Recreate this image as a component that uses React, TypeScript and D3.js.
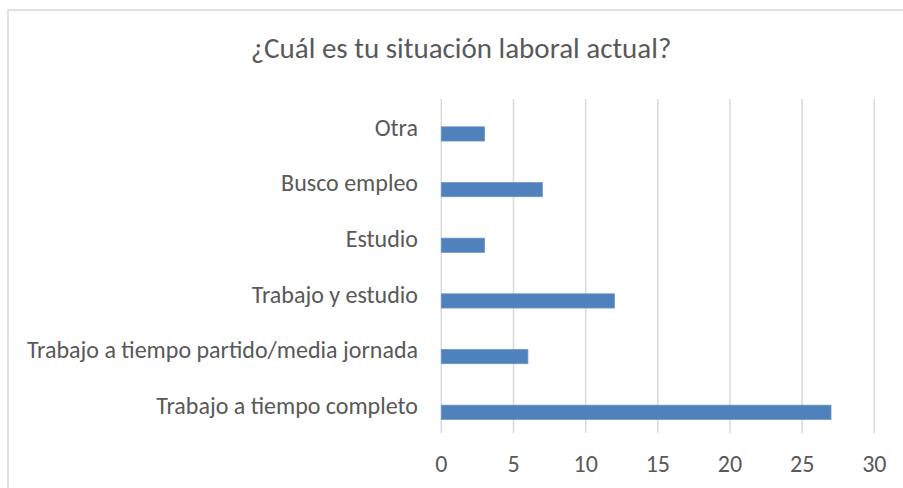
import React from "react";
import * as d3 from "d3";

const title = "¿Cuál es tu situación laboral actual?";
const categories = [
  "Otra",
  "Busco empleo",
  "Estudio",
  "Trabajo y estudio",
  "Trabajo a tiempo partido/media jornada",
  "Trabajo a tiempo completo",
];
const values = [3, 7, 3, 12, 6, 27];
const seriesSlots = ["vacía", "Serie1"];
const xTicks = [0, 5, 10, 15, 20, 25, 30];

const W = 903;
const H = 488;
const FONT = "Carlito, Calibri, 'Open Sans', sans-serif";
const TEXT = "#595959";

export default function App() {
  const x = d3.scaleLinear().domain([0, 30]).range([441.3, 874.3]);
  const y = d3
    .scaleBand<string>()
    .domain(categories)
    .range([99, 433])
    .paddingInner(0.49)
    .paddingOuter(0.245);
  const sub = d3.scaleBand<string>().domain(seriesSlots).range([0, y.bandwidth()]);
  return (
    <svg width={W} height={H} style={{ position: "absolute", left: 0, top: 0 }}>
      <rect x={0} y={0} width={W} height={H} fill="#fff" />
      <rect x={8} y={10} width={W + 20} height={H + 20} fill="none" stroke="#D9D9D9" strokeWidth={1.5} />
      <text x={461} y={57.5} textAnchor="middle" fontFamily={FONT} fontSize={29} fill={TEXT}>
        {title}
      </text>
      {xTicks.map((t) => (
        <line key={"g" + t} x1={x(t)} x2={x(t)} y1={99} y2={433} stroke="#D9D9D9" strokeWidth={1.5} />
      ))}
      {categories.map((c, i) => (
        <rect
          key={c}
          x={x(0)}
          y={(y(c) as number) + (sub("Serie1") as number)}
          width={x(values[i]) - x(0)}
          height={sub.bandwidth()}
          fill="#4F81BD"
          stroke="#6A95C9"
          strokeWidth={0.8}
        />
      ))}
      {categories.map((c) => (
        <text
          key={"l" + c}
          x={418}
          y={(y(c) as number) + y.bandwidth() / 2 + 8.7}
          textAnchor="end"
          fontFamily={FONT}
          fontSize={24}
          fill={TEXT}
        >
          {c}
        </text>
      ))}
      {xTicks.map((t) => (
        <text key={"t" + t} x={x(t)} y={472.3} textAnchor="middle" fontFamily={FONT} fontSize={24} fill={TEXT}>
          {t}
        </text>
      ))}
    </svg>
  );
}
